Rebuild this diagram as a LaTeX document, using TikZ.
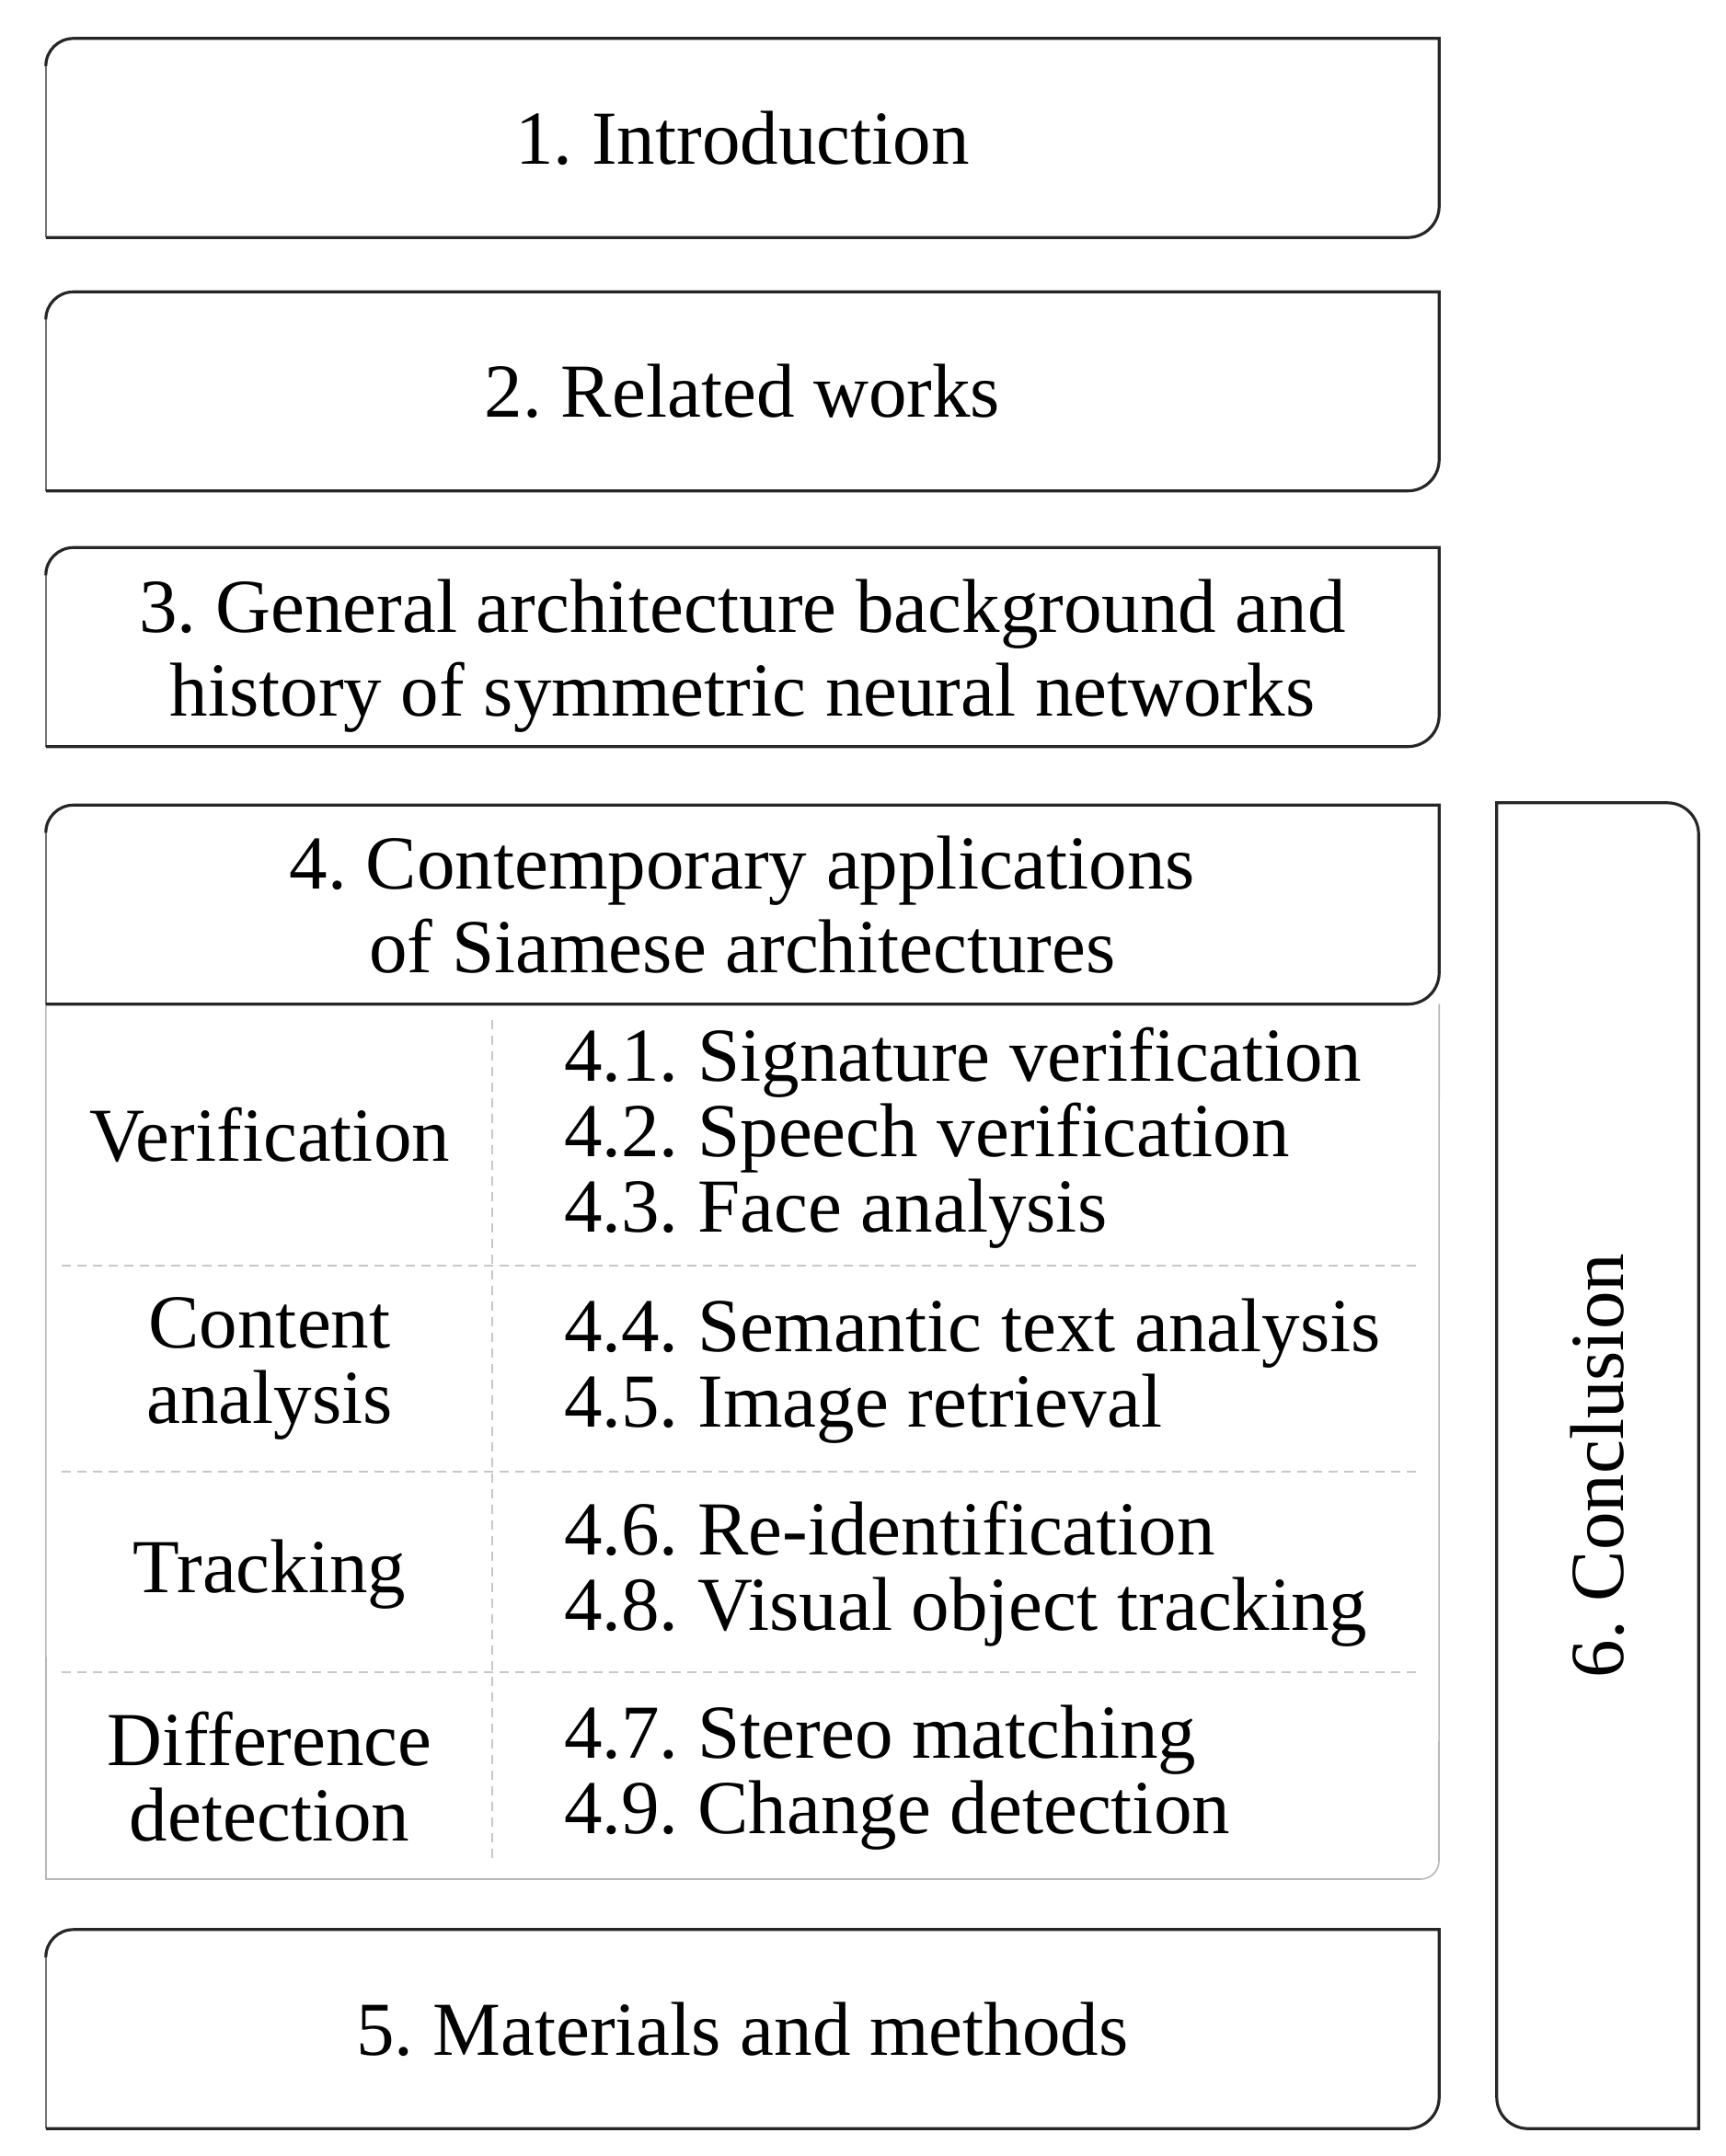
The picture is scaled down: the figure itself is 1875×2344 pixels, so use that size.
\documentclass[tikz,border=0pt]{standalone}
\usepackage{fontspec}
\setmainfont{Liberation Serif}
\usetikzlibrary{calc}
\frenchspacing
\newcommand\tlbrbox[1]{%
  \draw[thinedge] (#1.south west) -- ([yshift=-30pt]#1.north west);
  \draw[edge] ([yshift=-30pt]#1.north west) arc[start angle=180,end angle=90,radius=30pt]
    -- (#1.north east) -- ([yshift=34pt]#1.south east)
    arc[start angle=0,end angle=-90,radius=34pt] -- (#1.south west);
}
\begin{document}
\frenchspacing
\begin{tikzpicture}[x=1pt,y=1pt,
  hfont/.style={font=\fontsize{83}{91}\selectfont\frenchspacing},
  lfont/.style={font=\fontsize{83}{82}\selectfont\frenchspacing},
  boxshape/.style={draw=none, inner sep=0pt, minimum width=1514pt, minimum height=216pt, align=center, hfont},
  edge/.style={line width=3.2pt, draw=black!85},
  thinedge/.style={line width=1.6pt, draw=black!55},
  grayedge/.style={line width=1.6pt, draw=black!28},
  sep/.style={line width=2pt, draw=black!22, dash pattern=on 10pt off 7pt},
  txt/.style={lfont, inner sep=0pt},
]
\useasboundingbox (0,0) rectangle (1875,-2344);

% main boxes
\node[boxshape] (b1) at (807,-150) {1. Introduction};
\node[boxshape] (b2) at (807,-425.5) {2. Related works};
\node[boxshape] (b3) at (807,-703.5) {};
\node[txt, hfont, align=center] (t3) at (807,-713) {3. General architecture background and\\history of symmetric neural networks};
\node[boxshape] (b4) at (807,-983.5) {4. Contemporary applications\\of Siamese architectures};
\node[boxshape] (b5) at (807,-2206) {5. Materials and methods};
\node[draw=none, inner sep=0pt, minimum width=219pt, minimum height=1441pt] (b6) at (1736.5,-1593.5) {};
\node[rotate=90, hfont, inner sep=0pt] (t6) at (b6.center) {6. Conclusion};

\tlbrbox{b1}
\tlbrbox{b2}
\tlbrbox{b3}
\tlbrbox{b5}

% section 4 body
\coordinate (bodySW) at (50,-2043);
\coordinate (bodySE) at (1564,-2043);
\draw[grayedge] (b4.south east) -- ([yshift=20pt]bodySE) arc[start angle=0,end angle=-90,radius=20pt]
  -- (bodySW) -- (b4.south west);
\tlbrbox{b4}

% conclusion box
\draw[edge] (b6.north west) -- ([xshift=-34pt]b6.north east) arc[start angle=90,end angle=0,radius=34pt]
  -- (b6.south east) -- ([xshift=34pt]b6.south west) arc[start angle=270,end angle=180,radius=34pt] -- cycle;

% separators
\coordinate (vtop) at (535,-1109);
\coordinate (vbot) at (535,-2026);
\draw[sep] (vtop) -- (vbot);
\coordinate (h1a) at (67,-1376); \coordinate (h1b) at (1543,-1376);
\coordinate (h2a) at (67,-1600); \coordinate (h2b) at (1543,-1600);
\coordinate (h3a) at (67,-1818); \coordinate (h3b) at (1543,-1818);
\draw[sep] (h1a) -- (h1b);
\draw[sep] (h2a) -- (h2b);
\draw[sep] (h3a) -- (h3b);

% categories
\node[txt, align=center] (cv) at (293,-1234) {Verification};
\node[txt, align=center] (cc) at (293,-1488) {Content\\analysis};
\node[txt, align=center] (ct) at (293,-1712) {Tracking};
\node[txt, align=center] (cd) at (293,-1932) {Difference\\detection};

% items
\node[txt, align=left, anchor=west] (iv) at (613,-1237) {4.1. Signature verification\\4.2. Speech verification\\4.3. Face analysis};
\node[txt, align=left, anchor=west] (ic) at (613,-1491) {4.4. Semantic text analysis\\4.5. Image retrieval};
\node[txt, align=left, anchor=west] (it) at (613,-1711) {4.6. Re-identification\\4.8. Visual object tracking};
\node[txt, align=left, anchor=west] (id) at (613,-1933) {4.7. Stereo matching\\4.9. Change detection};
\end{tikzpicture}
\end{document}
